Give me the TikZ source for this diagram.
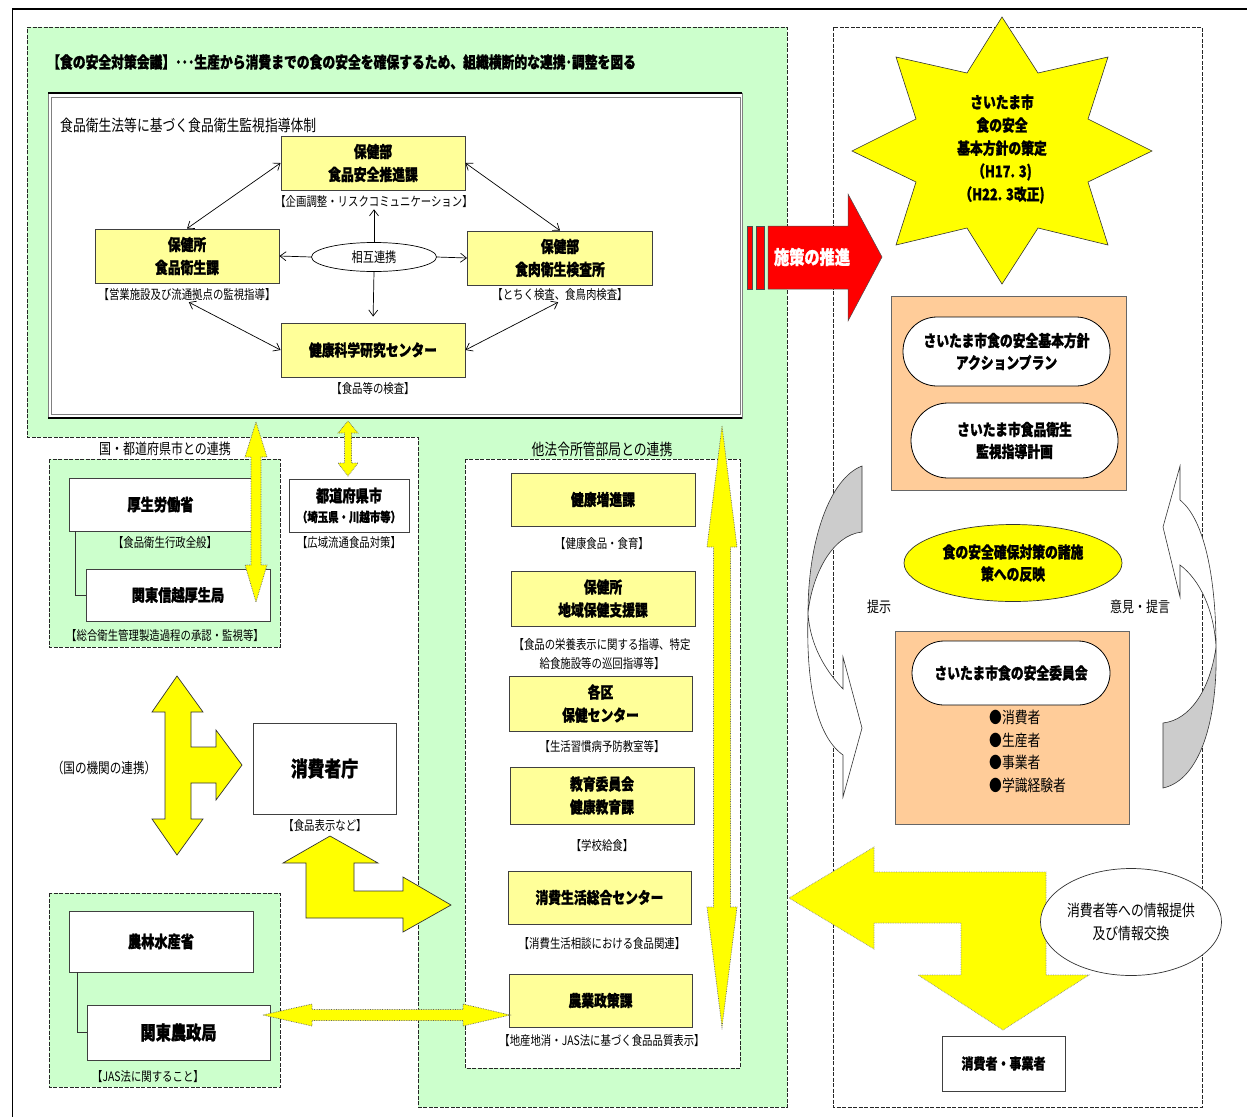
\documentclass[tikz,border=0pt]{standalone}
\usepackage{fontspec}
\setmainfont{Noto Sans CJK JP}[FakeStretch=0.8, BoldFeatures={FakeBold=1.2}]
\usetikzlibrary{arrows.meta,shapes.geometric}
\definecolor{gr}{HTML}{CCFFCC}
\definecolor{yb}{HTML}{FFFF99}
\definecolor{yy}{HTML}{FFFF00}
\definecolor{org}{HTML}{FFCC99}
\definecolor{rd}{HTML}{FF0000}
\definecolor{gy}{HTML}{CCCCCC}
\newcommand\myfs[2]{\fontsize{#1}{#2}\selectfont}
\tikzset{
  dashbox/.style={draw=black!85, dash pattern=on 4pt off 1.5pt, line width=0.8pt},
  ybox/.style={draw=black!75, fill=yb, line width=0.9pt, inner sep=0pt, align=center, font=\myfs{16}{23}\bfseries},
  wbox/.style={draw=black!75, fill=white, line width=0.9pt, inner sep=0pt, align=center, font=\myfs{16.5}{23}\bfseries},
  lbl/.style={inner sep=0pt, align=center, font=\myfs{13}{19}},
  thinarr/.style={<->, >={Straight Barb[length=6pt,width=9pt]}, line width=0.7pt},
  onearr/.style={->, >={Straight Barb[length=6pt,width=9pt]}, line width=0.7pt},
  blk/.style={fill=yy, draw=black!80, line width=0.7pt, line join=miter},
  dotblk/.style={fill=yy, draw=black!60, densely dotted, line width=0.7pt},
  obox/.style={draw=black!60, fill=org, line width=0.9pt, inner sep=0pt},
  pill/.style={draw=black, fill=white, line width=0.8pt, inner sep=0pt, align=center, font=\myfs{16}{22}\bfseries},
  plain/.style={inner sep=0pt, align=center}
}
\begin{document}
\begin{tikzpicture}[x=1pt,y=-1pt]
\useasboundingbox (0,0) rectangle (1247,1117);
% outer frame
\draw[line width=2pt] (12,9) -- (1247,9);
\draw[line width=0.8pt] (12,9) -- (12,1117);
% green region
\path[fill=gr, dashbox] (27,27) -- (787,27) -- (787,1107) -- (418,1107) -- (418,437) -- (27,437) -- cycle;
% right region
\path[dashbox] (833,27) rectangle (1202,1107);
% inner white double box
\path[fill=white, draw=black!50, line width=0.6pt] (48,93) rectangle (742,418);
\draw[black!50, line width=0.6pt] (51,97) rectangle (740,414);
\draw[line width=2.2pt] (48,93) -- (742,93);
\draw[line width=2.2pt] (48,418) -- (742,418);

\node[anchor=west, plain, font=\myfs{16}{20}\bfseries] (title) at (47,62) {【食の安全対策会議】･･･生産から消費までの食の安全を確保するため、組織横断的な連携･調整を図る};
\node[anchor=west, plain, font=\myfs{16}{20}] (sub) at (60,125) {食品衛生法等に基づく食品衛生監視指導体制};

% inner system
\node[ybox, minimum width=184pt, minimum height=54pt] (suishin) at (373,163) {保健部\\食品安全推進課};
\node[lbl] (suishinL) at (374,202) {【企画調整・リスクコミュニケーション】};
\node[ybox, minimum width=184pt, minimum height=54pt] (eisei) at (187,256) {保健所\\食品衛生課};
\node[lbl] (eiseiL) at (187,295) {【営業施設及び流通拠点の監視指導】};
\node[ybox, minimum width=185pt, minimum height=54pt] (niku) at (560,258) {保健部\\食肉衛生検査所};
\node[lbl] (nikuL) at (560,295) {【とちく検査、食鳥肉検査】};
\node[ybox, minimum width=184pt, minimum height=54pt] (kagaku) at (373,350) {健康科学研究センター};
\node[lbl] (kagakuL) at (373,389) {【食品等の検査】};
\node[ellipse, draw, fill=white, line width=0.7pt, minimum width=125pt, minimum height=29pt, inner sep=0pt, font=\myfs{14}{16}] (sogo) at (374,257) {相互連携};

\draw[thinarr] (eisei.north) -- (suishin.west);
\draw[thinarr] (suishin.east) -- (niku.north);
\draw[thinarr, shorten <=2pt] (eiseiL.south) -- (kagaku.west);
\draw[thinarr, shorten >=2pt] (kagaku.east) -- (nikuL.south);
\draw[onearr, shorten >=1pt] (sogo.north) -- (suishinL.south);
\draw[onearr] (sogo.west) -- (eisei.east);
\draw[onearr] (sogo.east) -- (niku.west);
\draw[onearr, shorten >=6pt] (sogo.south) -- (kagaku.north);

% left: national / prefectural
\node[plain, font=\myfs{15}{18}] (kunilbl) at (165,449) {国・都道府県市との連携};
\path[fill=gr, dashbox] (49,459) rectangle (280,647);
\node[wbox, minimum width=183pt, minimum height=53pt] (kosei) at (160.5,504.5) {厚生労働省};
\node[lbl] (koseiL) at (165,543) {【食品衛生行政全般】};
\node[wbox, minimum width=184pt, minimum height=52pt] (kantoshin) at (178,595) {関東信越厚生局};
\node[lbl] (kantoshinL) at (165,636) {【総合衛生管理製造過程の承認・監視等】};
\draw[black!80, line width=0.7pt] ([xshift=7pt]kosei.south west) |- (kantoshin.west);
\node[wbox, minimum width=120pt, minimum height=53pt] (todo) at (349,505.5) {都道府県市\\[-3pt]{\myfs{13}{16}\bfseries （埼玉県・川越市等）}};
\node[lbl] (todoL) at (349,543) {【広域流通食品対策】};

\node[plain, font=\myfs{14.5}{18}] (kikan) at (104,768) {（国の機関の連携）};
\node[wbox, minimum width=143pt, minimum height=91pt, font=\myfs{21}{24}\bfseries] (shocho) at (324.5,768.5) {消費者庁};
\node[lbl] (shochoL) at (325,826) {【食品表示など】};

\path[fill=gr, dashbox] (49,893) rectangle (280,1087);
\node[wbox, minimum width=184pt, minimum height=61pt] (norin) at (161,941.5) {農林水産省};
\node[wbox, minimum width=183pt, minimum height=55pt, font=\myfs{19}{22}\bfseries] (nosei) at (178.5,1032.5) {関東農政局};
\draw[black!80, line width=0.7pt] ([xshift=9pt]norin.south west) |- (nosei.west);
\node[lbl] (noseiL) at (148,1077) {【JAS法に関すること】};

% middle: other departments
\node[plain, font=\myfs{16}{18}] (tahorei) at (602,449) {他法令所管部局との連携};
\path[fill=white, dashbox] (465,459) rectangle (740,1068);
\node[ybox, minimum width=184pt, minimum height=53pt] (kenzo) at (603,499.5) {健康増進課};
\node[lbl] (kenzoL) at (602,544) {【健康食品・食育】};
\node[ybox, minimum width=184pt, minimum height=55pt] (chiiki) at (603,598.5) {保健所\\地域保健支援課};
\node[lbl] (chiikiL) at (602,654.5) {【食品の栄養表示に関する指導、特定\\給食施設等の巡回指導等】};
\node[ybox, minimum width=183pt, minimum height=55pt] (kaku) at (600.5,703.5) {各区\\保健センター};
\node[lbl] (kakuL) at (602,747) {【生活習慣病予防教室等】};
\node[ybox, minimum width=184pt, minimum height=57pt] (kyoiku) at (602,795.5) {教育委員会\\健康教育課};
\node[lbl] (kyoikuL) at (602,846) {【学校給食】};
\node[ybox, minimum width=183pt, minimum height=53pt] (seikatsu) at (599.5,897.5) {消費生活総合センター};
\node[lbl] (seikatsuL) at (602,944) {【消費生活相談における食品関連】};
\node[ybox, minimum width=183pt, minimum height=53pt] (nogyo) at (600.5,1000.5) {農業政策課};
\node[lbl] (nogyoL) at (602,1041) {【地産地消・JAS法に基づく食品品質表示】};

% thin yellow double arrows
\path[dotblk] (256,422) -- (267,457) -- (261,457) -- (261,565) -- (267,565) -- (256,602) -- (245,565) -- (251,565) -- (251,457) -- (245,457) -- cycle;
\path[dotblk] (348,421) -- (358,433) -- (351.5,433) -- (351.5,463) -- (358,463) -- (348,476) -- (338,463) -- (344.5,463) -- (344.5,433) -- (338,433) -- cycle;
\path[dotblk] (722,426) -- (737,547) -- (730.5,547) -- (730.5,907) -- (737,907) -- (722,1027) -- (707,907) -- (713.5,907) -- (713.5,547) -- (707,547) -- cycle;
\path[dotblk] (263,1015) -- (312,1004) -- (312,1009.5) -- (463,1009.5) -- (463,1004) -- (510,1015) -- (463,1026) -- (463,1020.5) -- (312,1020.5) -- (312,1026) -- cycle;

% big yellow arrows (left)
\path[blk] (177,676) -- (203,712) -- (191,712) -- (191,747) -- (216,747) -- (216,730) -- (242,765) -- (216,800) -- (216,783) -- (191,783) -- (191,819) -- (203,819) -- (177,855) -- (152,819) -- (165,819) -- (165,712) -- (152,712) -- cycle;
\path[blk] (330,836) -- (378,863) -- (354,863) -- (354,891) -- (403,891) -- (403,877) -- (451,905) -- (403,932) -- (403,918) -- (306,918) -- (306,863) -- (283,863) -- cycle;

% red arrow
\path[fill=rd, draw=black!70, line width=0.5pt] (747,226) rectangle (752,289);
\path[fill=rd, draw=black!70, line width=0.5pt] (756,226) rectangle (764,289);
\path[fill=rd, draw=black!70, line width=0.5pt, line join=miter] (768,226) -- (848,226) -- (848,194) -- (882,257) -- (848,321) -- (848,289) -- (768,289) -- cycle;
\node[plain, text=white, font=\myfs{19}{22}\bfseries] (sesaku) at (812,257) {施策の推進};

% star
\path[fill=yy, draw=black!80, line width=0.6pt, line join=miter] (1002,17) -- (1038,73) -- (1108,57) -- (1088,119) -- (1152,151) -- (1088,182) -- (1108,245) -- (1038,228) -- (1002,284) -- (967,228) -- (896,245) -- (916,182) -- (852,151) -- (916,119) -- (896,57) -- (967,73) -- cycle;
\node[plain, font=\myfs{16}{23}\bfseries] (star) at (1002,149) {さいたま市\\食の安全\\基本方針の策定\\（H17. 3)\\（H22. 3改正)};

% right column
\node[obox, minimum width=235pt, minimum height=194pt] (planbox) at (1008.5,393) {};
\node[pill, minimum width=207pt, minimum height=69pt, rounded corners=34pt] (action) at (1006.5,351.5) {さいたま市食の安全基本方針\\アクションプラン};
\node[pill, minimum width=207pt, minimum height=75pt, rounded corners=37pt] (kanshi) at (1014.5,440.5) {さいたま市食品衛生\\監視指導計画};
\node[ellipse, draw=black!80, fill=yy, line width=0.7pt, minimum width=218pt, minimum height=77pt, inner sep=0pt, align=center, font=\myfs{16}{22}\bfseries] (hanei) at (1013,563) {食の安全確保対策の諸施\\策への反映};
\node[plain, font=\myfs{15}{18}] (teiji) at (879,607) {提示};
\node[plain, font=\myfs{15}{18}] (iken) at (1140,607) {意見・提言};
\node[obox, minimum width=234pt, minimum height=193pt] (iinkaibox) at (1012,727.5) {};
\node[pill, minimum width=198pt, minimum height=64pt, rounded corners=32pt] (iinkai) at (1011,673) {さいたま市食の安全委員会};
\node[anchor=north west, inner sep=0pt, align=left, font=\myfs{16}{22.5}] (members) at (989,710) {●消費者\\●生産者\\●事業者\\●学識経験者};

% curved arrows
\path[fill=gy, draw=black!80, line width=0.6pt] (862,466) .. controls (830,478) and (808,540) .. (808,613) .. controls (812,575) and (832,535) .. (862,532) -- cycle;
\path[fill=white, draw=black!80, line width=0.6pt, line join=miter] (808,613) .. controls (806,680) and (815,735) .. (843,755) -- (843,797) -- (862,728) -- (843,657) -- (843,689) .. controls (825,670) and (810,645) .. (808,613) -- cycle;
\path[fill=white, draw=black!80, line width=0.6pt, line join=miter] (1180,500) -- (1180,466) -- (1163,527) -- (1180,597) -- (1180,565) .. controls (1200,580) and (1214,610) .. (1216,647) .. controls (1216,580) and (1205,520) .. (1180,500) -- cycle;
\path[fill=gy, draw=black!80, line width=0.6pt] (1216,647) .. controls (1218,720) and (1200,780) .. (1163,788) -- (1163,723) .. controls (1190,720) and (1210,690) .. (1216,647) -- cycle;

% big yellow arrow (right)
\path[fill=yy, draw=black!45, densely dotted, line width=0.7pt] (789,898) -- (874,847) -- (874,872) -- (1046,872) -- (1046,975) -- (1089,975) -- (1003,1030) -- (918,975) -- (961,975) -- (961,923) -- (874,923) -- (874,949) -- cycle;
\node[ellipse, draw=black!80, fill=white, line width=0.7pt, minimum width=157pt, minimum height=107pt, inner sep=0pt, align=center, font=\myfs{16}{23}] (joho) at (1131,922) {消費者等への情報提供\\及び情報交換};
\node[wbox, minimum width=123pt, minimum height=55pt, font=\myfs{15}{18}\bfseries] (jigyo) at (1003.5,1063.5) {消費者・事業者};
\end{tikzpicture}
\end{document}
